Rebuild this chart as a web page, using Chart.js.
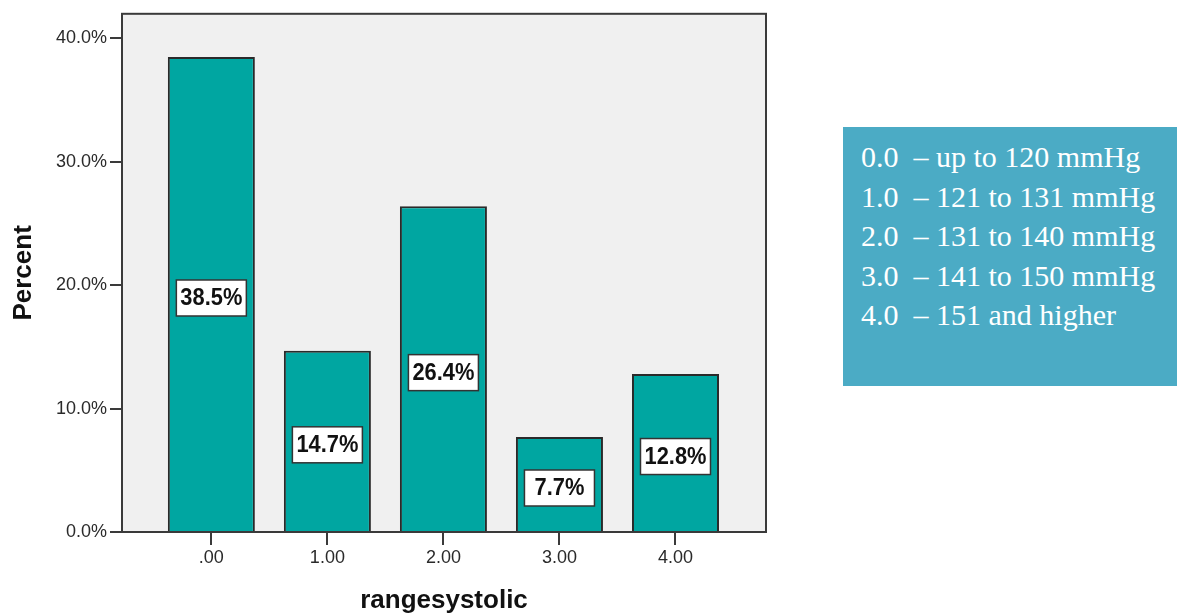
<!DOCTYPE html>
<html>
<head>
<meta charset="utf-8">
<script src="https://cdn.jsdelivr.net/npm/chart.js@4"></script>
<style>
  html, body { margin:0; padding:0; background:#fff; }
  body { width:1177px; height:613px; position:relative; overflow:hidden; }
  .chart-box { position:absolute; left:0; top:0; width:780px; height:613px; }
  .note {
    position:absolute; left:843px; top:127px; width:334px; height:259px;
    background:#4babc5; color:#fff; box-sizing:border-box;
    font-family:"Liberation Serif","Times New Roman",serif; font-size:30px;
    padding:10px 0 0 18px; line-height:39.6px; white-space:pre;
  }
</style>
</head>
<body>
<div class="chart-box"><canvas id="barChart"></canvas></div>
<div class="note" id="note"></div>
<script>
// 카테고리 / 값
const categories = ['.00', '1.00', '2.00', '3.00', '4.00'];
const catPos     = [0, 1, 2, 3, 4];
const percents   = [38.5, 14.7, 26.4, 7.7, 12.8];
const yTicks     = [0, 10, 20, 30, 40];
const noteLines  = [
  '0.0  \u2013 up to 120 mmHg',
  '1.0  \u2013 121 to 131 mmHg',
  '2.0  \u2013 131 to 140 mmHg',
  '3.0  \u2013 141 to 150 mmHg',
  '4.0  \u2013 151 and higher'
];

const TEAL   = '#00a6a1';
const FRAME  = '#3a3a3a';
const PANEL  = '#f0f0f0';
const TXT    = '#2a2a2a';
const FONT   = '"Liberation Sans", Arial, sans-serif';

document.getElementById('note').textContent = noteLines.join('\n');

// 플롯 영역 배경 + 테두리
const panelPlugin = {
  id: 'panel',
  beforeDatasetsDraw(chart){
    const {ctx, chartArea:a} = chart;
    ctx.save();
    ctx.fillStyle = PANEL;
    ctx.fillRect(a.left, a.top, a.right - a.left, a.bottom - a.top);
    ctx.restore();
  },
  afterDatasetsDraw(chart){
    const {ctx, chartArea:a} = chart;
    ctx.save();
    ctx.strokeStyle = FRAME;
    ctx.lineWidth = 2;
    ctx.strokeRect(a.left, a.top, a.right - a.left, a.bottom - a.top);
    ctx.restore();
  }
};

// 막대 안의 값 라벨 (흰 박스)
const boxLabelPlugin = {
  id: 'boxLabels',
  afterDatasetsDraw(chart){
    const {ctx} = chart;
    const meta = chart.getDatasetMeta(0);
    ctx.save();
    meta.data.forEach((bar, i) => {
      const txt = percents[i].toFixed(1) + '%';
      const cx = bar.x;
      const cy = (bar.y + bar.base) / 2 + 4;
      const w = 70, h = 36;
      ctx.fillStyle = '#fff';
      ctx.fillRect(cx - w/2, cy - h/2, w, h);
      ctx.strokeStyle = '#333';
      ctx.lineWidth = 1.5;
      ctx.strokeRect(cx - w/2, cy - h/2, w, h);
      ctx.save();
      ctx.translate(cx, cy + 1);
      ctx.scale(0.95, 1);
      ctx.fillStyle = '#111';
      ctx.font = 'bold 23px ' + FONT;
      ctx.textAlign = 'center';
      ctx.textBaseline = 'middle';
      ctx.fillText(txt, 0, 0);
      ctx.restore();
    });
    ctx.restore();
  }
};

const el = document.getElementById('barChart');
new Chart(el, {
  type: 'bar',
  data: {
    datasets: [{
      data: catPos.map((x, i) => ({ x, y: percents[i] })),
      backgroundColor: TEAL,
      borderColor: '#2a2a2a',
      borderWidth: 2,
      categoryPercentage: 1,
      barPercentage: 0.75
    }]
  },
  options: {
    responsive: true,
    maintainAspectRatio: false,
    animation: false,
    devicePixelRatio: 1,
    layout: { padding: { top: 12, right: 14, left: 0, bottom: 0 } },
    plugins: { legend: { display: false }, tooltip: { enabled: false } },
    scales: {
      x: {
        type: 'linear',
        offset: false,
        min: -0.77, max: 4.78,
        afterBuildTicks(scale){ scale.ticks = catPos.map(v => ({ value: v })); },
        afterFit(scale){ scale.height = 81; },
        grid: { drawOnChartArea: false, drawTicks: true, tickLength: 13, color: FRAME, lineWidth: 2, offset: false },
        border: { display: false },
        ticks: {
          callback: (v) => categories[catPos.indexOf(v)],
          color: TXT, padding: 2,
          font: { family: FONT, size: 18 },
          maxRotation: 0
        },
        title: {
          display: true, text: 'rangesystolic', color: '#111',
          font: { family: FONT, size: 26, weight: 'bold' },
          padding: { top: 0, bottom: -3 }
        }
      },
      y: {
        min: 0, max: 42,
        afterBuildTicks(scale){ scale.ticks = yTicks.map(v => ({ value: v })); },
        afterFit(scale){ scale.width = 122; },
        grid: { drawOnChartArea: false, drawTicks: true, tickLength: 12, color: FRAME, lineWidth: 2 },
        border: { display: false },
        ticks: {
          callback: (v) => v.toFixed(1) + '%',
          color: TXT, padding: 3,
          font: { family: FONT, size: 18 }
        },
        title: {
          display: true, text: 'Percent', color: '#111',
          font: { family: FONT, size: 26, weight: 'bold' },
          padding: { top: 8, bottom: 0 }
        }
      }
    }
  },
  plugins: [panelPlugin, boxLabelPlugin]
});
</script>
</body>
</html>
